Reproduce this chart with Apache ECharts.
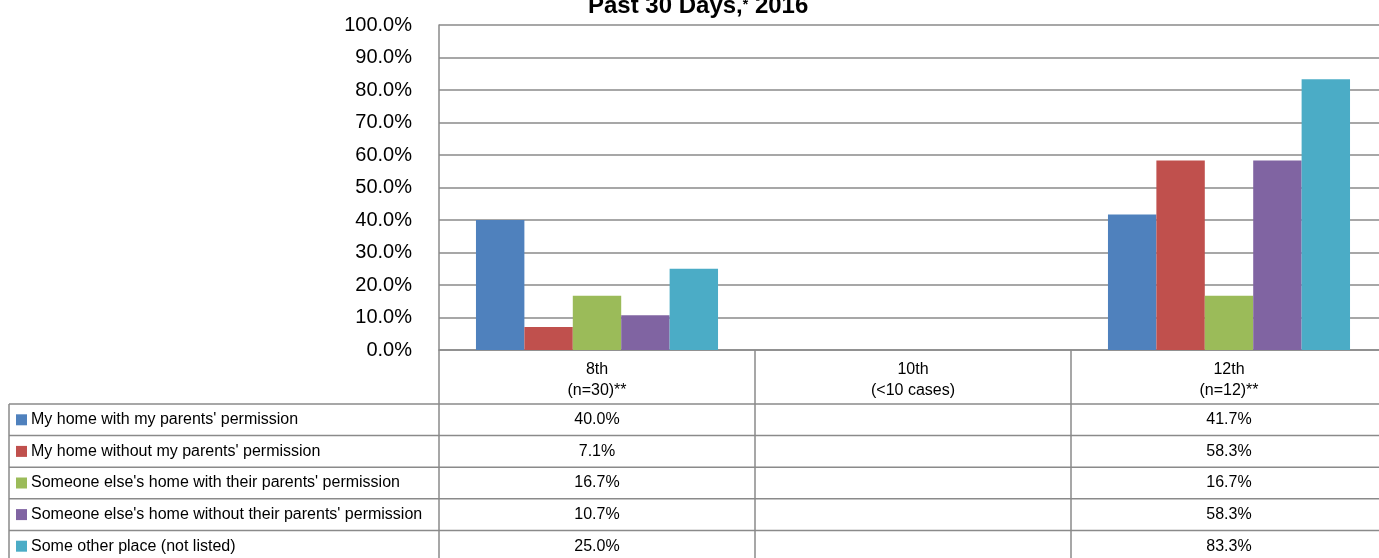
<!DOCTYPE html>
<html>
<head>
<meta charset="utf-8">
<script src="https://cdn.jsdelivr.net/npm/echarts@6/dist/echarts.min.js"></script>
<style>
  html, body { margin: 0; padding: 0; background: #fff; overflow: hidden; }
  /* plot runs a little past the right edge, like the source image */
  #chart { width: 1389px; height: 558px; }
</style>
</head>
<body>
<div id="chart"></div>
<script>
// grades and the sample note under each one
var grades = ['8th', '10th', '12th'];
var gradeNotes = ['(n=30)**', '(<10 cases)', '(n=12)**'];

var places = [
  "My home with my parents' permission",
  "My home without my parents' permission",
  "Someone else's home with their parents' permission",
  "Someone else's home without their parents' permission",
  "Some other place (not listed)"
];

// percent per grade (10th suppressed, <10 cases)
var homeWithPermission = [40.0, null, 41.7];
var homeWithoutPermission = [7.1, null, 58.3];
var otherHomeWithPermission = [16.7, null, 16.7];
var otherHomeWithoutPermission = [10.7, null, 58.3];
var otherPlace = [25.0, null, 83.3];

var seriesValues = [homeWithPermission, homeWithoutPermission, otherHomeWithPermission,
  otherHomeWithoutPermission, otherPlace];
var colors = ['#4F81BD', '#C0504D', '#9BBB59', '#8064A2', '#4BACC6'];

var font = '"Liberation Sans", Arial, sans-serif';
var lineColor = '#8a8a8a';

var chart = echarts.init(document.getElementById('chart'));

var series = places.map(function (name, i) {
  return {
    name: name,
    type: 'bar',
    data: seriesValues[i],
    barGap: 0,
    barCategoryGap: '23.4%',
    itemStyle: { color: colors[i] }
  };
});

chart.setOption({
  animation: false,
  textStyle: { fontFamily: font },
  title: {
    text: 'Past 30 Days,{s|*} 2016',
    left: 583,
    top: -11,
    textStyle: {
      fontFamily: font,
      fontSize: 24,
      fontWeight: 'bold',
      color: '#000',
      rich: { s: { fontSize: 14, fontWeight: 'bold', lineHeight: 14, verticalAlign: 'top', padding: [4, 0, 0, 0] } }
    }
  },
  grid: { left: 439, top: 25, right: 2, bottom: 208, containLabel: false },
  xAxis: {
    type: 'category',
    data: grades,
    axisLine: { show: true, lineStyle: { color: lineColor, width: 1.5 } },
    axisTick: { show: true, length: 208, lineStyle: { color: lineColor, width: 1.5 } },
    axisLabel: {
      margin: 9,
      fontSize: 16,
      lineHeight: 21,
      color: '#000',
      fontFamily: font,
      formatter: function (v, idx) { return v + '\n' + gradeNotes[idx]; }
    }
  },
  yAxis: {
    type: 'value',
    min: 0,
    max: 100,
    interval: 10,
    axisLine: { show: true, lineStyle: { color: lineColor, width: 1.5 } },
    axisTick: { show: false },
    splitLine: { lineStyle: { color: lineColor, width: 1.5 } },
    axisLabel: {
      margin: 27,
      fontSize: 20,
      color: '#000',
      fontFamily: font,
      formatter: function (v) { return v.toFixed(1) + '%'; }
    }
  },
  series: series
});

// data table under the plot
var tableTop = 404;
var rowH = 31.6;
var tableLeft = 9;
var tableRight = 1389;
var graphics = [];

for (var r = 0; r <= places.length; r++) {
  var y = tableTop + r * rowH;
  graphics.push({
    type: 'line',
    shape: { x1: tableLeft, y1: y, x2: tableRight, y2: y },
    style: { stroke: lineColor, lineWidth: 1.5 },
    silent: true
  });
}
graphics.push({
  type: 'line',
  shape: { x1: tableLeft, y1: tableTop, x2: tableLeft, y2: 558 },
  style: { stroke: lineColor, lineWidth: 1.5 },
  silent: true
});

places.forEach(function (name, i) {
  var cy = tableTop + i * rowH + rowH / 2;
  graphics.push({
    type: 'rect',
    shape: { x: 16, y: cy - 5.5, width: 11, height: 11 },
    style: { fill: colors[i] },
    silent: true
  });
  graphics.push({
    type: 'text',
    x: 31,
    y: cy,
    style: { text: name, font: '16px ' + font, fill: '#000', verticalAlign: 'middle' },
    silent: true
  });
  seriesValues[i].forEach(function (v, j) {
    if (v == null) return;
    var cx = chart.convertToPixel({ xAxisIndex: 0 }, grades[j]);
    graphics.push({
      type: 'text',
      x: cx,
      y: cy,
      style: { text: v.toFixed(1) + '%', font: '16px ' + font, fill: '#000', align: 'center', verticalAlign: 'middle' },
      silent: true
    });
  });
});

chart.setOption({ graphic: graphics });
</script>
</body>
</html>
